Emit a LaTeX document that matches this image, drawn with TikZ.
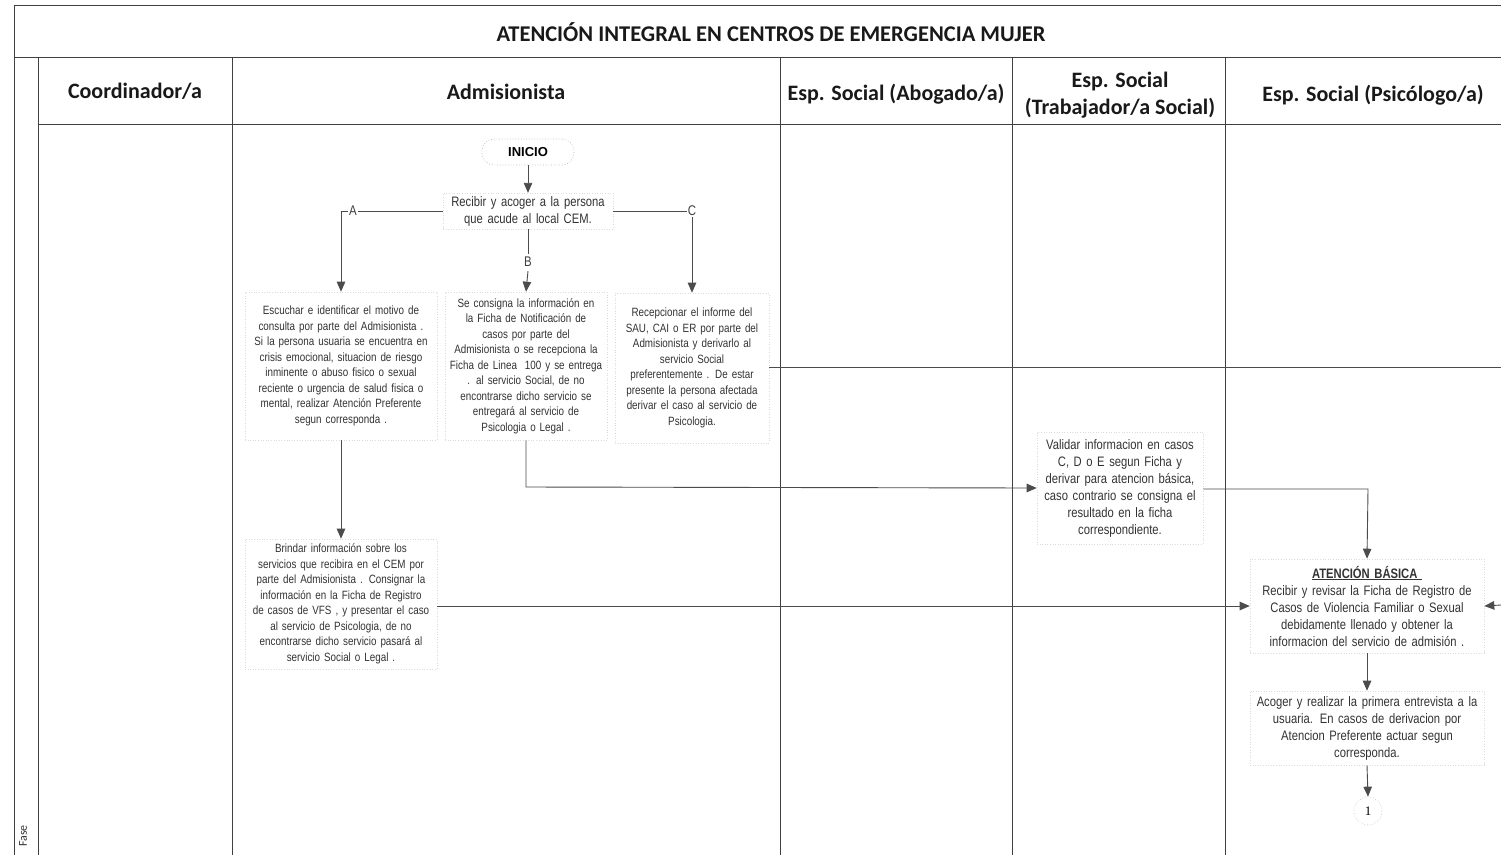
\documentclass[tikz,border=0pt]{standalone}
\usepackage{fontspec}
\setmainfont{Liberation Sans}
\newfontfamily\hdr{Carlito}
\newfontfamily\narrow[FakeStretch=0.82]{Liberation Sans}
\newfontfamily\ser{Liberation Serif}
\usetikzlibrary{arrows.meta}
\begin{document}
\begin{tikzpicture}[x=1pt,y=-1pt,
  lane/.style={draw=black!75,line width=0.8pt},
  hdrtext/.style={font=\hdr\bfseries\fontsize{22}{26}\selectfont,align=center,text=black!90},
  sbox/.style={draw=black!14,dotted,line width=0.6pt,align=center,inner sep=3pt,
     font=\narrow\fontsize{12}{15.5}\selectfont,text=black!80},
  lbox/.style={draw=black!14,dotted,line width=0.6pt,align=center,inner sep=3pt,
     font=\narrow\fontsize{13.7}{17}\selectfont,text=black!80},
  conn/.style={draw=black!70,line width=0.9pt},
  arr/.style={conn,-{Triangle[width=8.5pt,length=10pt]}},
  lab/.style={fill=white,inner sep=1pt,font=\narrow\fontsize{14}{15}\selectfont,text=black!75}
]
\useasboundingbox (0,0) rectangle (1501,855);
\fill[white] (0,0) rectangle (1501,855);
% frame and lanes
\draw[lane] (14,855) -- (14,5) -- (1501,5);
\draw[lane] (14,57) -- (1501,57);
\draw[lane] (38,124) -- (1501,124);
\draw[lane] (38,57) -- (38,855);
\draw[lane] (232,57) -- (232,855);
\draw[lane] (780,57) -- (780,855);
\draw[lane] (1012,57) -- (1012,855);
\draw[lane] (1225,57) -- (1225,855);
% title and headers
\node[hdrtext,font=\hdr\bfseries\fontsize{22.5}{26}\selectfont] (title) at (771,32) {ATENCIÓN INTEGRAL EN CENTROS DE EMERGENCIA MUJER};
\node[hdrtext] (h1) at (135,91) {Coordinador/a};
\node[hdrtext] (h2) at (506,92) {Admisionista};
\node[hdrtext] (h3) at (896,94) {Esp. Social (Abogado/a)};
\node[hdrtext,font=\hdr\bfseries\fontsize{22}{27}\selectfont] (h4) at (1120,95) {Esp. Social\\(Trabajador/a Social)};
\node[hdrtext] (h5) at (1373,95) {Esp. Social (Psicólogo/a)};
\node[rotate=90,font=\hdr\fontsize{12}{12}\selectfont,text=black!80] (fase) at (23,836) {Fase};
% nodes
\node[draw=black!28,dotted,line width=0.7pt,rounded corners=12pt,font=\bfseries\fontsize{13}{14}\selectfont,
  minimum width=92pt,minimum height=26pt] (inicio) at (528,152) {INICIO};
\node[lbox,text width=164pt] (recibir) at (528,211) {Recibir y acoger a la persona\\que acude al local CEM.};
\node[sbox,text width=186pt,minimum height=148pt] (a) at (341,366) {Escuchar e identificar el motivo de\\consulta por parte del Admisionista .\\Si la persona usuaria se encuentra en\\crisis emocional, situacion de riesgo\\inminente o abuso fisico o sexual\\reciente o urgencia de salud fisica o\\mental, realizar Atención Preferente\\segun corresponda .};
\node[sbox,text width=156pt,minimum height=148pt] (b) at (526,366) {Se consigna la información en\\la Ficha de Notificación de\\casos por parte del\\Admisionista o se recepciona la\\Ficha de Linea\ \ 100 y se entrega\\. al servicio Social, de no\\encontrarse dicho servicio se\\entregará al servicio de\\Psicologia o Legal .};
\node[sbox,text width=148pt,minimum height=150pt] (c) at (692,368) {Recepcionar el informe del\\SAU, CAI o ER por parte del\\Admisionista y derivarlo al\\servicio Social\\preferentemente . De estar\\presente la persona afectada\\derivar el caso al servicio de\\Psicologia.};
\node[sbox,text width=186pt,minimum height=130pt] (brindar) at (341,604) {Brindar información sobre los\\servicios que recibira en el CEM por\\parte del Admisionista . Consignar la\\información en la Ficha de Registro\\de casos de VFS , y presentar el caso\\al servicio de Psicologia, de no\\encontrarse dicho servicio pasará al\\servicio Social o Legal .};
\node[lbox,text width=160pt,minimum height=112pt] (validar) at (1120,488) {Validar informacion en casos\\C, D o E segun Ficha y\\derivar para atencion básica,\\caso contrario se consigna el\\resultado en la ficha\\correspondiente.};
\node[lbox,text width=228pt,minimum height=94pt] (ab) at (1367,606) {\textbf{\underline{ATENCIÓN BÁSICA\ }}\\Recibir y revisar la Ficha de Registro de\\Casos de Violencia Familiar o Sexual\\debidamente llenado y obtener la\\informacion del servicio de admisión .};
\node[lbox,text width=228pt,minimum height=74pt] (acoger) at (1367,728) {Acoger y realizar la primera entrevista a la\\usuaria. En casos de derivacion por\\Atencion Preferente actuar segun\\corresponda.};
\node[circle,draw=black!22,dotted,line width=0.7pt,minimum size=28pt,font=\ser\fontsize{13}{14}\selectfont] (one) at (1368,811) {1};
% helper coordinates
\coordinate (ra) at (341,211);
\coordinate (rc) at (692,211);
\coordinate (bturn) at (526,487);
\coordinate (vturn) at (1368,489);
\coordinate (cout) at (1501,367);
\coordinate (cin) at (1501,605);
\coordinate (bmid) at (528,254);
\coordinate (bres) at (528,271);
% connectors
\draw[arr] (inicio.south) -- (recibir.north);
\draw[arr] (recibir.west) -- (ra) -- (a.north);
\node[lab] (la) at (353,211) {A};
\draw[arr] (recibir.east) -- (rc) -- (c.north);
\node[lab] (lc) at (692,211) {C};
\draw[conn] (recibir.south) -- (bmid);
\node[lab,fill=none] (lb) at (528,262) {B};
\draw[arr] (bres) -- (b.north);
\draw[arr] (a.south) -- (brindar.north);
\draw[arr] (b.south) -- (bturn) -- (validar.west);
\draw[arr] (validar.east |- vturn) -- (vturn) -- (ab.north);
\draw[arr] (brindar.east |- ab.west) -- (ab.west);
\draw[conn] (c.east |- cout) -- (cout);
\draw[arr] (cin) -- (ab.east);
\draw[arr] (ab.south) -- (acoger.north);
\draw[arr] (acoger.south) -- (one.north);
\end{tikzpicture}
\end{document}
